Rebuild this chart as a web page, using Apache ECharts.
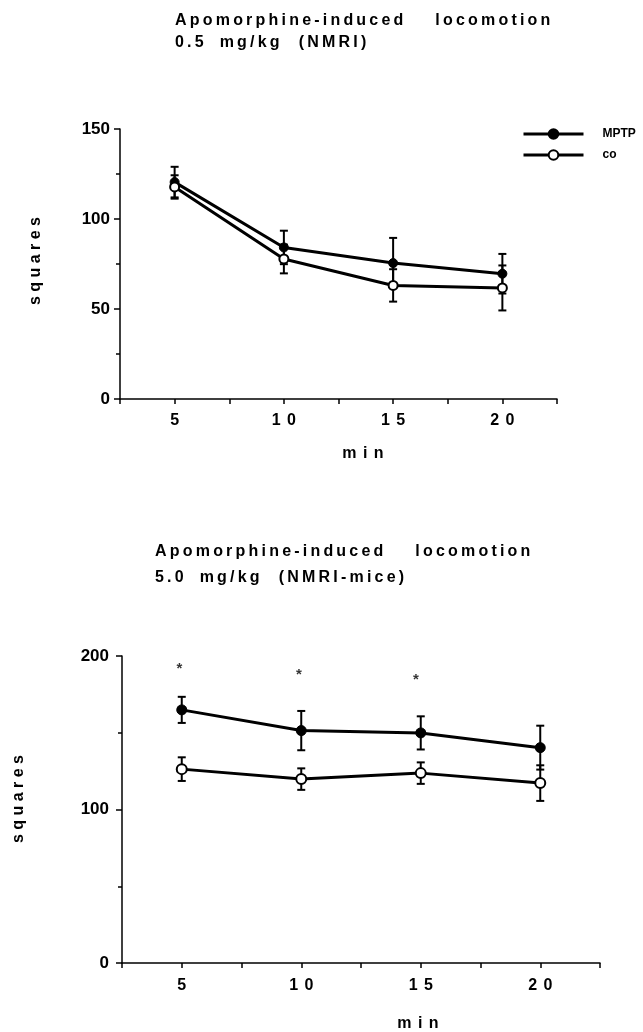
<!DOCTYPE html>
<html>
<head>
<meta charset="utf-8">
<script src="https://cdn.jsdelivr.net/npm/echarts@6.0.0/dist/echarts.min.js"></script>
<style>
  html, body { margin: 0; padding: 0; background: #fff; }
  #chart { width: 643px; height: 1032px; }
</style>
</head>
<body>
<div id="chart"></div>
<script>
// data
const minutes = [5, 10, 15, 20];

// 0.5 mg/kg (NMRI)
const mptpLow = [120.5, 84.2, 75.5, 69.6];
const mptpLowErr = [8.5, 9.3, 14, 11];
const coLow = [117.8, 77.8, 63.1, 61.7];
const coLowErr = [6.5, 8, 9, 12.5];

// 5.0 mg/kg (NMRI-mice)
const mptpHigh = [164.9, 151.4, 149.9, 140.3];
const mptpHighErr = [8.5, 12.8, 10.8, 14.3];
const coHigh = [126.3, 119.8, 123.7, 117.2];
const coHighErr = [7.7, 7, 7, 11.6];

// significance stars (bottom panel)
const starX = [4.9, 9.9, 14.8];
const starY = [191.7, 188, 184.7];

const FONT = '"Liberation Sans", Arial, sans-serif';
const TS = '\u2009';   // thin space, the scan has wide letter spacing
const sp = s => s.split('').join(TS);

const pairs = (xs, ys) => xs.map((x, i) => [x, ys[i]]);
const triples = (xs, ys, es) => xs.map((x, i) => [x, ys[i], es[i]]);

function errBars(params, api) {
  const x = api.value(0), y = api.value(1), e = api.value(2);
  const top = api.coord([x, y + e]);
  const bot = api.coord([x, y - e]);
  const w = 4;
  const st = { stroke: '#000', lineWidth: 2 };
  return {
    type: 'group',
    children: [
      { type: 'line', shape: { x1: top[0], y1: top[1], x2: bot[0], y2: bot[1] }, style: st },
      { type: 'line', shape: { x1: top[0] - w, y1: top[1], x2: top[0] + w, y2: top[1] }, style: st },
      { type: 'line', shape: { x1: bot[0] - w, y1: bot[1], x2: bot[0] + w, y2: bot[1] }, style: st }
    ]
  };
}

function xAxisOf(gridIndex, margin) {
  return {
    type: 'value', gridIndex: gridIndex, min: 2.5, max: 22.5, interval: 2.5,
    axisLine: { onZero: false, lineStyle: { color: '#000', width: 1.5 } },
    axisTick: { length: 5, lineStyle: { color: '#000', width: 1.5 } },
    splitLine: { show: false },
    axisLabel: {
      margin: margin, color: '#000', fontFamily: FONT, fontWeight: 'bold', fontSize: 16,
      formatter: v => (v % 5 === 0 ? String(v).split('').join(TS + TS) : '')
    }
  };
}

function yAxisOf(gridIndex, max, interval, margin) {
  return {
    type: 'value', gridIndex: gridIndex, min: 0, max: max, interval: interval,
    axisLine: { show: true, lineStyle: { color: '#000', width: 1.5 } },
    axisTick: { show: true, length: 6, lineStyle: { color: '#000', width: 1.5 } },
    minorTick: { show: true, splitNumber: 2, length: 4, lineStyle: { color: '#000', width: 1.5 } },
    splitLine: { show: false },
    axisLabel: { margin: margin, color: '#000', fontFamily: FONT, fontWeight: 'bold', fontSize: 17 }
  };
}

function lineSeries(name, idx, data, filled) {
  return {
    name: name, type: 'line', xAxisIndex: idx, yAxisIndex: idx,
    data: data, symbol: 'circle', symbolSize: idx === 0 ? 9 : 10,
    z: 3, animation: false,
    lineStyle: { color: '#000', width: 3 },
    itemStyle: filled
      ? { color: '#000', borderColor: '#000', borderWidth: 1 }
      : { color: '#fff', borderColor: '#000', borderWidth: 2 }
  };
}

function barSeries(name, idx, data) {
  return {
    name: name + ' sem', type: 'custom', xAxisIndex: idx, yAxisIndex: idx,
    data: data, renderItem: errBars, z: 2, animation: false
  };
}

function txt(text, x, y, size, align, rot) {
  return {
    type: 'text', x: x, y: y, rotation: rot || 0,
    style: {
      text: text, fill: '#000', font: 'bold ' + size + 'px ' + FONT,
      textAlign: align || 'left', textVerticalAlign: 'middle'
    }
  };
}

const title1 = sp('Apomorphine-induced') + '\u2003\u2003' + sp('locomotion');
const sub1 = sp('0.5') + '\u2003' + sp('mg/kg') + '\u2003\u2009' + sp('(NMRI)');
const sub2 = sp('5.0') + '\u2003' + sp('mg/kg') + '\u2003\u2009' + sp('(NMRI-mice)');
const squares = 's q u a r e s';
const minLabel = 'm' + TS + TS + 'i' + TS + TS + 'n';

const chart = echarts.init(document.getElementById('chart'), null, { renderer: 'canvas' });
chart.setOption({
  backgroundColor: '#fff',
  animation: false,
  grid: [
    { left: 120, top: 129, width: 437, height: 270 },
    { left: 122, top: 656, width: 478, height: 307 }
  ],
  xAxis: [xAxisOf(0, 14), xAxisOf(1, 15)],
  yAxis: [yAxisOf(0, 150, 50, 10), yAxisOf(1, 200, 100, 13)],
  legend: {
    data: ['MPTP', 'co'],
    orient: 'vertical', left: 522, top: 128, padding: 0,
    itemWidth: 60, itemHeight: 12, itemGap: 9,
    lineStyle: { width: 3, color: '#000' },
    textStyle: { color: '#000', fontFamily: FONT, fontWeight: 'bold', fontSize: 12, padding: [0, 0, 0, 14] }
  },
  graphic: [
    txt(title1, 175, 21, 16),
    txt(sub1, 175, 43, 16),
    txt(title1, 155, 552, 16),
    txt(sub2, 155, 578, 16),
    txt(squares, 36, 261, 16, 'center', Math.PI / 2),
    txt(squares, 19, 799, 16, 'center', Math.PI / 2),
    txt(minLabel, 363, 454, 16, 'center'),
    txt(minLabel, 418, 1024, 16, 'center')
  ],
  series: [
    barSeries('MPTP', 0, triples(minutes, mptpLow, mptpLowErr)),
    barSeries('co', 0, triples(minutes, coLow, coLowErr)),
    lineSeries('MPTP', 0, pairs(minutes, mptpLow), true),
    lineSeries('co', 0, pairs(minutes, coLow), false),
    barSeries('MPTP', 1, triples(minutes, mptpHigh, mptpHighErr)),
    barSeries('co', 1, triples(minutes, coHigh, coHighErr)),
    lineSeries('MPTP', 1, pairs(minutes, mptpHigh), true),
    lineSeries('co', 1, pairs(minutes, coHigh), false),
    {
      type: 'scatter', xAxisIndex: 1, yAxisIndex: 1,
      data: pairs(starX, starY), symbolSize: 0, silent: true,
      label: {
        show: true, position: 'inside', formatter: '*', color: '#000',
        fontFamily: FONT, fontWeight: 'bold', fontSize: 15
      }
    }
  ]
});
</script>
</body>
</html>
